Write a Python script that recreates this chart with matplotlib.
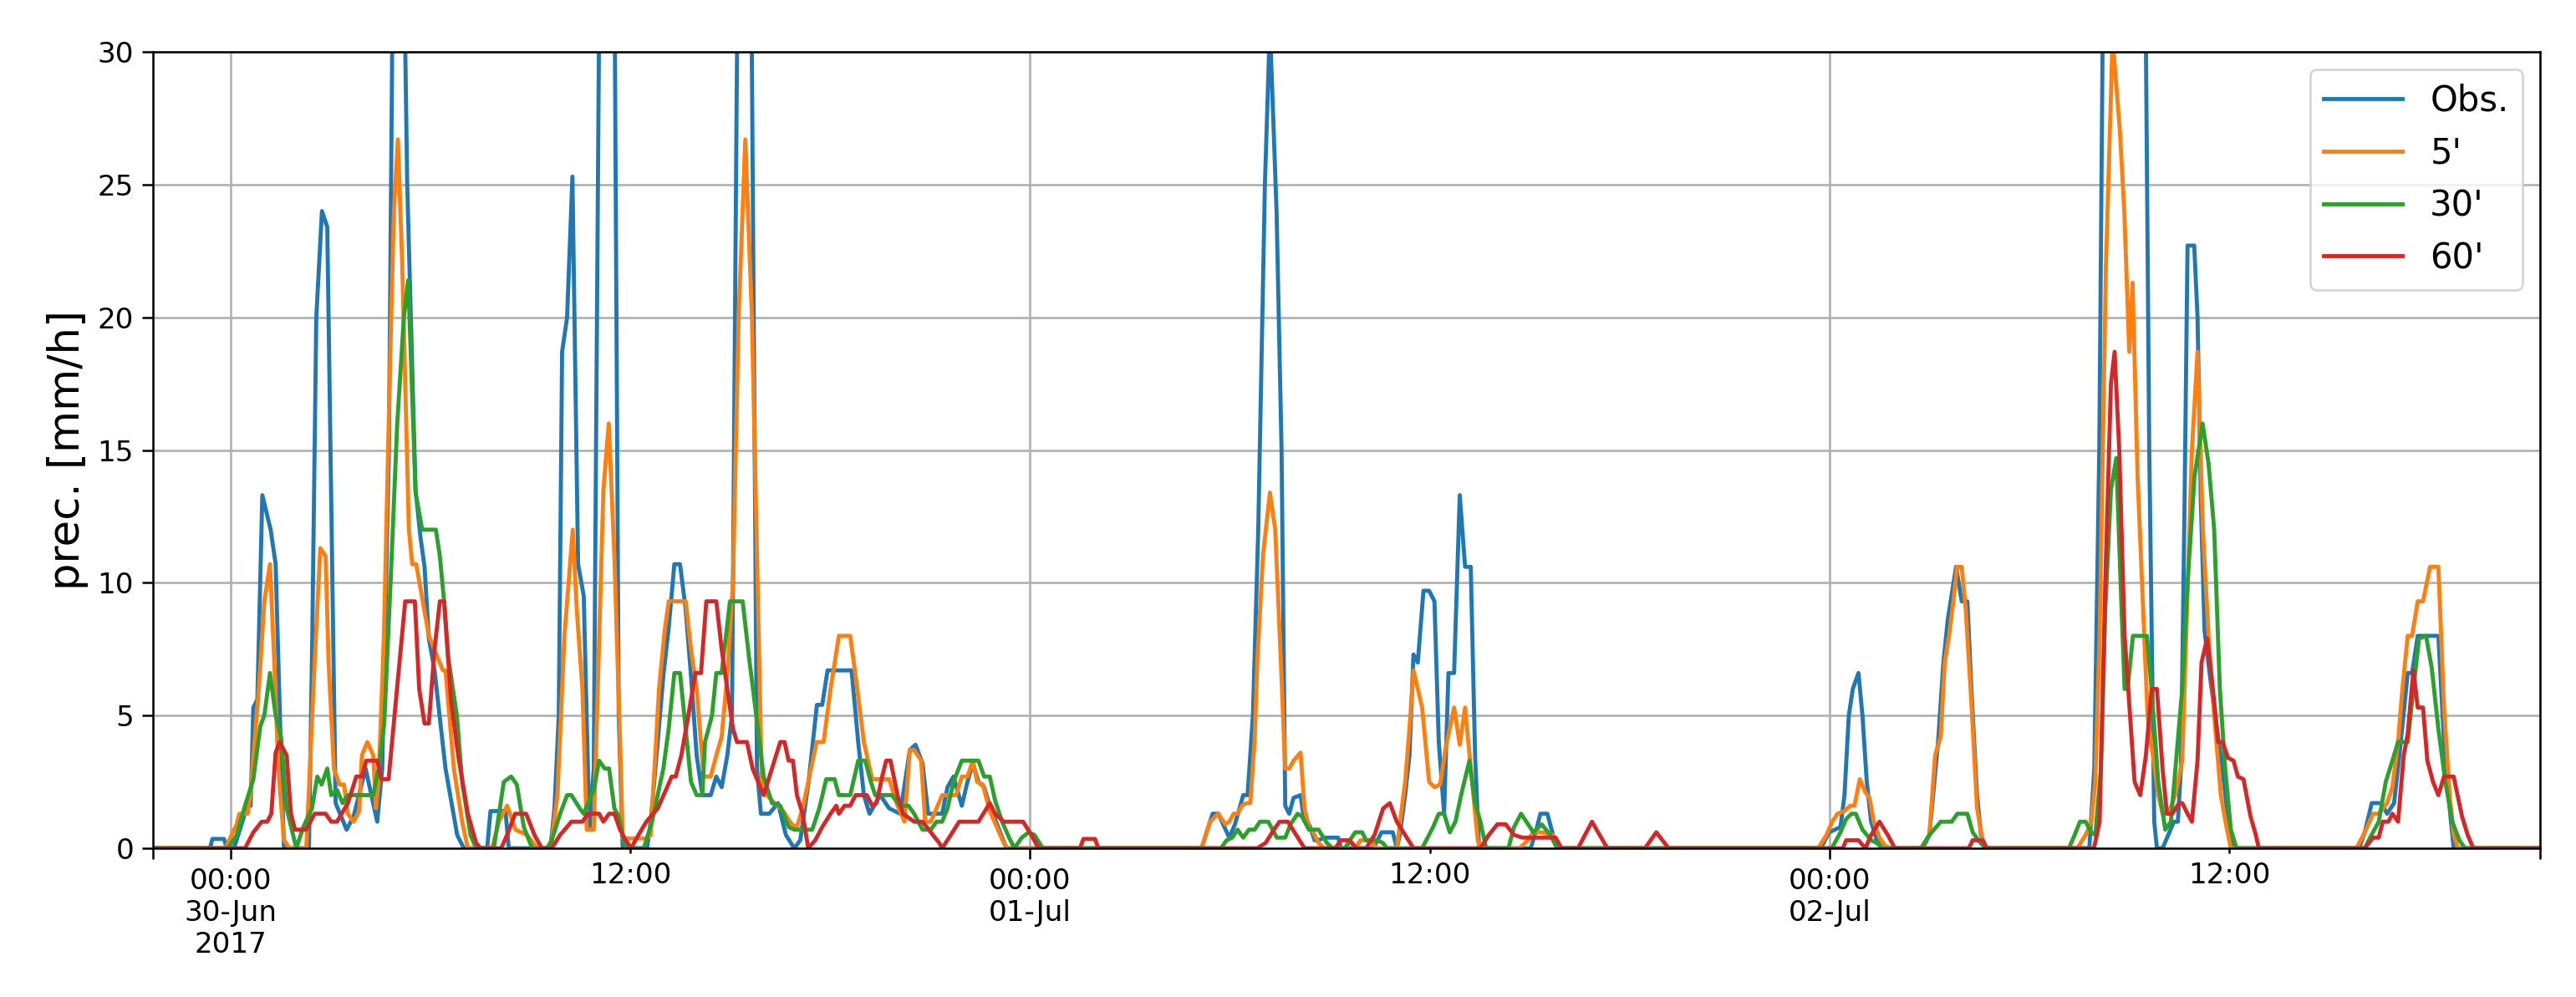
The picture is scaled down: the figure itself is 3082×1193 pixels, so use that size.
import matplotlib
matplotlib.use("Agg")
import matplotlib.pyplot as plt
import numpy as np
import pandas as pd

# ---- data: (hours after 2017-06-30 00:00, precipitation in mm/h) ----
obs = [(-2.333,0),(-0.62,0),(-0.55,0.35),(-0.2,0.35),(-0.12,0),(0.1,0),(0.3,0.8),(0.5,1.6),(0.6,1.6),(0.68,5.3),(0.8,5.6),(0.95,13.3),(1.2,12.0),(1.35,10.7),(1.5,4.0),(1.6,0),
       (2.35,0),(2.45,8),(2.57,20.0),(2.74,24.0),(2.9,23.4),(3.15,1.7),(3.48,0.7),(3.69,1.2),(4.05,3.0),(4.4,1.0),(4.55,3.0),(4.75,15),(4.9,38),(5.15,38),(5.3,25),(5.55,13.5),(5.7,11.7),(5.82,10.6),(5.95,7.9),(6.12,6.7),(6.45,3.0),(6.8,0.5),(7.0,0),
       (7.7,0),(7.8,1.4),(8.25,1.4),(8.35,0),
       (9.6,0),(9.72,1.5),(9.85,5),(9.95,18.7),(10.1,20.0),(10.26,25.3),(10.43,10.7),(10.6,9.5),(10.77,0.7),(10.9,3),(11.1,38),(11.5,38),(11.65,5),(11.77,0),
       (12.5,0),(12.61,1.0),(12.82,4.0),(12.99,6.5),(13.15,8.3),(13.32,10.7),(13.49,10.7),(13.66,9.0),(13.82,6.5),(13.99,3.5),(14.16,2.0),(14.41,2.0),(14.58,2.7),(14.74,2.3),(14.91,3.5),(15.05,5),(15.25,38),(15.6,38),(15.8,3),(15.92,1.3),(16.17,1.3),(16.43,1.7),(16.67,0.5),(16.92,0),
       (17.1,0.3),(17.35,2.5),(17.6,5.4),(17.76,5.4),(17.92,6.7),(18.64,6.7),(18.84,4.0),(19.01,2.0),(19.18,1.3),(19.5,2.0),(19.77,1.5),(20.1,1.3),(20.39,3.7),(20.56,3.9),(20.77,3.2),(20.94,1.3),(21.36,1.3),(21.52,2.3),(21.7,2.7),(21.95,1.6),(22.12,2.5),(22.28,3.2),(22.45,2.5),(22.62,2.3),(22.79,1.6),(23.04,0.8),(23.29,0),
       (29.15,0),(29.3,0.6),(29.48,1.3),(29.65,1.3),(29.98,0.4),(30.15,0.9),(30.4,2.0),(30.53,2.0),(30.69,5.0),(30.85,12),(31.05,25),(31.2,31),(31.4,24),(31.55,15),(31.66,1.6),(31.78,1.3),(31.91,1.9),(32.12,2.0),(32.2,1.3),(32.41,0.8),(32.54,0.3),(32.66,0.3),(32.83,0.4),(33.25,0.4),(33.33,0),
       (34.3,0),(34.43,0.3),(34.55,0.6),(34.89,0.6),(35.01,0),(35.1,0.5),(35.26,2.0),(35.39,3.5),(35.51,7.3),(35.64,7.0),(35.81,9.7),(35.98,9.7),(36.14,9.3),(36.27,4.0),(36.43,1.3),(36.56,6.6),(36.73,6.6),(36.9,13.3),(37.06,10.6),(37.23,10.6),(37.36,3.5),(37.48,0),
       (39.03,0),(39.2,0.7),(39.32,1.3),(39.53,1.3),(39.7,0.5),(39.82,0),
       (47.74,0),(47.99,0.6),(48.16,0.7),(48.33,0.8),(48.45,2.0),(48.58,5.0),(48.7,6.0),(48.87,6.6),(48.99,5.0),(49.12,2.5),(49.25,1.0),(49.42,0.3),(49.58,0),
       (50.8,0),(51.0,0.5),(51.26,4.0),(51.42,7.0),(51.55,8.6),(51.8,10.6),(51.97,9.3),(52.14,9.3),(52.26,6.0),(52.43,2.0),(52.55,0.5),(52.68,0),
       (55.8,0),(55.95,3),(56.1,15),(56.25,38),(57.45,38),(57.6,15),(57.75,1),(57.83,0),(58.0,0),(58.17,0.5),(58.34,1.0),(58.46,1.0),(58.55,3.0),(58.65,12),(58.75,22.7),(58.95,22.7),(59.05,20.0),(59.15,13),(59.26,8.2),(59.47,6.0),(59.63,4.5),(59.8,3.0),(59.97,1.0),(60.09,0),
       (63.9,0),(64.07,0.6),(64.28,1.7),(64.57,1.7),(64.74,1.3),(64.95,1.7),(65.11,3.5),(65.36,6.6),(65.49,6.6),(65.66,8.0),(66.28,8.0),(66.45,4.0),(66.62,1.5),(66.74,0),(69.333,0)]

m5 = [(-2.333,0),(-0.16,0),(0.18,0.9),(0.26,1.3),(0.51,1.3),(0.59,2.0),(0.85,6.1),(1.01,9.3),(1.18,10.7),(1.31,7.0),(1.43,3.0),(1.6,0.3),(1.77,0),
      (2.27,0),(2.52,7.0),(2.69,11.3),(2.85,11.0),(2.94,7.0),(3.1,3.0),(3.27,2.4),(3.4,2.4),(3.52,1.3),(3.69,1.0),(3.86,1.4),(3.94,3.5),(4.1,4.0),(4.28,3.5),(4.36,1.5),(4.44,2.5),(4.6,8),(4.78,18),(4.9,24),(5.02,26.7),(5.15,22),(5.35,12),(5.45,10.7),(5.57,10.7),(5.95,8.0),(6.37,6.7),(6.45,6.7),(6.7,3.0),(6.95,1.0),(7.12,0),
      (7.85,0),(8.05,1.0),(8.3,1.6),(8.55,0.7),(8.9,0.5),(9.2,0),
      (9.5,0),(9.64,0.3),(9.81,2.0),(10.02,8.0),(10.27,12.0),(10.39,9.0),(10.56,6.0),(10.69,0.7),(10.9,0.7),(11.02,6.0),(11.19,13.5),(11.35,16.0),(11.52,11.0),(11.69,4.0),(11.77,0.37),(12.48,0.37),(12.61,0.5),(12.86,6.0),(13.03,8.2),(13.15,9.3),(13.66,9.3),(13.82,7.5),(13.99,6.0),(14.2,2.7),(14.41,2.7),(14.58,3.5),(14.74,4.2),(14.91,6.5),(15.08,10),(15.25,20),(15.45,26.7),(15.65,20),(15.95,2.2),(16.33,1.7),(16.59,1.4),(16.84,0.9),(17.0,0.8),(17.17,1.5),(17.34,2.5),(17.59,4.0),(17.8,4.0),(18.01,6.0),(18.26,8.0),(18.6,8.0),(18.76,6.5),(19.01,4.0),(19.26,2.6),(19.77,2.6),(20.02,1.6),(20.23,1.0),(20.39,3.7),(20.52,3.7),(20.73,3.3),(20.85,1.0),(21.02,1.0),(21.36,2.0),(21.78,2.0),(21.95,2.7),(22.12,2.7),(22.28,3.3),(22.41,2.5),(22.58,2.4),(22.79,1.4),(23.0,0.8),(23.21,0.2),(23.33,0),
      (29.15,0),(29.4,1.0),(29.65,1.3),(29.86,0.9),(29.98,1.0),(30.11,1.3),(30.23,1.3),(30.36,1.6),(30.49,1.7),(30.61,1.7),(30.74,4.0),(30.82,7.0),(30.99,11.0),(31.2,13.4),(31.36,12.0),(31.53,7.0),(31.66,3.0),(31.78,3.0),(31.91,3.3),(32.12,3.6),(32.24,1.5),(32.37,0.8),(32.5,0.6),(32.66,0.2),(32.83,0),
      (33.5,0),(33.6,0.3),(33.76,0),(33.92,0.3),(34.09,0.3),(34.26,0.2),(34.43,0),
      (35.01,0),(35.26,2.5),(35.39,4.5),(35.51,6.7),(35.77,5.3),(35.98,2.5),(36.14,2.3),(36.31,2.4),(36.48,3.8),(36.73,5.3),(36.9,3.9),(37.06,5.3),(37.27,2.5),(37.44,0.3),(37.52,0),
      (38.69,0),(38.95,0.3),(39.1,0.6),(39.36,0.6),(39.7,0.5),(39.82,0),
      (47.66,0),(47.91,0.5),(48.08,1.0),(48.24,1.3),(48.45,1.4),(48.62,1.6),(48.75,1.6),(48.91,2.6),(49.08,2.1),(49.2,1.9),(49.33,1.0),(49.5,0.4),(49.67,0.1),(49.83,0),
      (50.75,0),(51.0,0.5),(51.17,3.5),(51.34,4.2),(51.46,7.0),(51.59,8.0),(51.72,9.3),(51.83,10.6),(51.97,10.6),(52.09,9.0),(52.26,5.5),(52.43,1.5),(52.6,0.3),(52.72,0),
      (55.44,0),(55.69,0.5),(55.86,1.0),(55.98,2.5),(56.11,8),(56.3,22),(56.5,30.5),(56.72,27),(56.85,24),(57.0,18.7),(57.1,21.3),(57.25,14),(57.55,5),(57.87,2.0),(58.0,1.3),(58.17,1.3),(58.38,2.0),(58.59,3.3),(58.71,8.0),(58.88,15),(59.05,18.7),(59.21,12),(59.38,8),(59.55,5),(59.75,2.0),(59.92,0.8),(60.05,0),
      (63.82,0),(64.07,0.6),(64.32,1.3),(64.49,1.3),(64.74,1.7),(64.9,2.3),(65.07,4.0),(65.2,6.0),(65.36,8.0),(65.49,8.0),(65.66,9.3),(65.82,9.3),(66.03,10.6),(66.28,10.6),(66.45,5.3),(66.62,2.0),(66.74,0.5),(66.87,0),(69.333,0)]

m30 = [(-2.333,0),(-0.08,0),(0.18,0.5),(0.43,1.6),(0.68,2.6),(0.89,4.6),(1.01,5.0),(1.18,6.6),(1.35,5.0),(1.51,4.2),(1.68,1.5),(1.97,0),(2.18,0.8),(2.44,1.5),(2.6,2.7),(2.73,2.4),(2.9,3.0),(3.02,2.0),(3.19,2.2),(3.36,1.7),(3.52,2.0),(4.28,2.0),(4.44,3.0),(4.61,4.7),(4.8,10),(5.0,16),(5.2,20.0),(5.33,21.4),(5.55,13.4),(5.75,12.0),(6.16,12.0),(6.28,11.0),(6.4,9.4),(6.53,7.2),(6.79,5.0),(6.95,2.5),(7.2,0.5),(7.37,0),
       (7.9,0),(8.2,2.5),(8.42,2.7),(8.59,2.4),(8.8,0.8),(9.05,0),(9.5,0),
       (9.64,0.3),(9.89,1.3),(10.1,2.0),(10.23,2.0),(10.48,1.5),(10.6,1.3),(10.9,2.2),(11.06,3.3),(11.23,3.0),(11.36,3.0),(11.52,1.5),(11.65,1.2),(11.82,0.2),(11.98,0),(12.4,0),(12.65,1.0),(12.99,3.0),(13.15,4.5),(13.32,6.6),(13.49,6.6),(13.66,4.5),(13.82,2.5),(13.99,2.0),(14.16,2.0),(14.24,4.0),(14.45,5.0),(14.58,6.6),(14.74,6.6),(14.99,9.3),(15.37,9.3),(15.58,7.0),(15.83,4.5),(16.0,2.7),(16.25,1.7),(16.5,1.6),(16.75,0.8),(16.92,0.7),(17.46,0.7),(17.67,1.5),(17.88,2.6),(18.13,2.6),(18.26,2.0),(18.6,2.0),(18.84,3.3),(19.05,3.3),(19.22,2.5),(19.35,2.0),(19.85,2.0),(20.1,1.6),(20.35,1.6),(20.52,1.3),(20.77,0.7),(21.02,0.7),(21.19,1.0),(21.36,1.0),(21.52,1.5),(21.7,2.5),(21.95,3.3),(22.45,3.3),(22.62,2.7),(22.79,2.7),(22.95,1.8),(23.16,1.0),(23.37,0.4),(23.53,0),(23.75,0.4),(23.96,0.6),(24.13,0.5),(24.38,0),
       (29.73,0),(29.9,0.3),(30.07,0.4),(30.23,0.7),(30.4,0.4),(30.57,0.7),(30.74,0.7),(30.9,1.0),(31.15,1.0),(31.41,0.4),(31.66,0.4),(31.82,0.9),(32.03,1.3),(32.16,1.2),(32.37,0.7),(32.66,0.7),(32.91,0.2),(33.08,0),(33.45,0),(33.6,0.3),(33.76,0.6),(33.97,0.6),(34.09,0.3),(34.43,0.3),(34.59,0.2),(34.72,0),
       (35.77,0),(36.1,0.8),(36.27,1.3),(36.43,1.3),(36.6,0.6),(36.77,1.0),(36.94,2.0),(37.19,3.3),(37.36,1.7),(37.52,1.0),(37.69,0),
       (38.36,0),(38.53,0.8),(38.74,1.3),(38.95,0.9),(39.11,0.6),(39.36,0.9),(39.62,0.5),(39.82,0),
       (48.07,0),(48.33,0.6),(48.5,1.1),(48.66,1.3),(48.79,1.3),(48.99,0.7),(49.25,0.3),(49.42,0.2),(49.58,0),
       (50.75,0),(51.0,0.5),(51.34,1.0),(51.67,1.0),(51.84,1.3),(52.14,1.3),(52.3,0.6),(52.47,0.3),(52.68,0),
       (55.19,0),(55.36,0.5),(55.52,1.0),(55.69,1.0),(55.86,0.6),(55.98,0.5),(56.15,3.0),(56.28,9.0),(56.45,13.5),(56.61,14.7),(56.74,10),(56.86,6.0),(56.95,6.0),(57.11,8.0),(57.53,8.0),(57.67,6.0),(57.87,2.5),(58.08,0.7),(58.25,1.0),(58.42,3.5),(58.59,6.0),(58.75,10),(58.96,14),(59.2,16.0),(59.38,14.5),(59.55,12),(59.72,6),(59.88,3),(60.05,0.7),(60.22,0),
       (64.07,0),(64.23,0.4),(64.49,1.0),(64.7,2.5),(64.9,3.3),(65.07,4.0),(65.36,4.0),(65.53,6.0),(65.7,7.9),(65.91,8.0),(66.08,6.8),(66.28,4.5),(66.49,2.5),(66.7,1.0),(66.91,0.3),(67.08,0),(69.333,0)]

m60 = [(-2.333,0),(0.43,0),(0.68,0.6),(0.93,1.0),(1.1,1.0),(1.22,1.3),(1.35,3.6),(1.47,4.0),(1.68,3.5),(1.81,1.3),(1.93,0.7),(2.27,0.7),(2.52,1.3),(2.85,1.3),(3.02,1.0),(3.19,1.0),(3.52,1.7),(3.77,2.7),(3.94,2.7),(4.07,3.3),(4.4,3.3),(4.53,2.6),(4.74,2.6),(5.03,6.5),(5.24,9.3),(5.53,9.3),(5.66,6.0),(5.82,4.7),(5.95,4.7),(6.12,7.5),(6.28,9.3),(6.41,9.3),(6.62,5.5),(6.83,3.5),(7.12,1.3),(7.37,0.2),(7.5,0),
       (8.12,0),(8.3,0.5),(8.54,1.3),(8.87,1.3),(9.12,0.5),(9.34,0),(9.64,0),
       (9.89,0.5),(10.23,1.0),(10.56,1.0),(10.73,1.3),(11.06,1.3),(11.19,1.0),(11.36,1.3),(11.52,1.3),(11.69,0.7),(11.86,0.3),(12.03,0),(12.15,0.3),(12.48,1.0),(12.82,1.5),(13.07,2.2),(13.24,2.7),(13.36,2.7),(13.53,3.5),(13.74,5.0),(13.95,6.6),(14.12,6.6),(14.28,9.3),(14.58,9.3),(14.74,7.5),(14.91,6.0),(15.08,4.5),(15.2,4.0),(15.5,4.0),(15.67,3.0),(16.0,2.0),(16.25,3.0),(16.5,4.0),(16.63,4.0),(16.75,3.3),(16.88,3.3),(17.0,2.0),(17.17,1.3),(17.34,0),(17.55,0.3),(17.76,0.8),(18.01,1.3),(18.18,1.6),(18.26,1.3),(18.43,1.6),(18.6,1.6),(18.76,2.0),(19.1,2.0),(19.26,1.6),(19.39,1.7),(19.56,2.7),(19.68,3.3),(19.81,3.3),(20.02,2.0),(20.18,1.3),(20.52,1.0),(20.77,1.0),(21.02,0.6),(21.27,0.2),(21.36,0),(21.62,0.5),(21.87,1.0),(22.45,1.0),(22.79,1.7),(22.95,1.3),(23.21,1.0),(23.79,1.0),(24.04,0.5),(24.25,0),
       (25.5,0),(25.6,0.35),(25.95,0.35),(26.05,0),
       (30.82,0),(31.07,0.2),(31.32,0.7),(31.49,1.0),(31.74,1.0),(31.99,0.5),(32.24,0),(33.16,0),(33.33,0.3),(33.59,0.3),(33.8,0),
       (34.09,0),(34.34,0.5),(34.6,1.5),(34.8,1.7),(35.01,1.0),(35.26,0.5),(35.51,0),
       (37.52,0),(37.77,0.5),(38.03,0.9),(38.28,0.9),(38.53,0.5),(38.78,0.4),(39.78,0.4),(39.95,0),
       (40.45,0),(40.87,1.0),(41.33,0),(42.46,0),(42.8,0.6),(43.17,0),
       (48.4,0),(48.5,0.3),(48.87,0.3),(49.08,0),(49.25,0.5),(49.5,1.0),(49.75,0.5),(49.96,0),
       (52.18,0),(52.3,0.3),(52.6,0.3),(52.72,0),
       (55.94,0),(56.11,1.0),(56.28,10),(56.45,17.5),(56.56,18.7),(56.7,15),(56.86,8),(57.16,2.5),(57.33,2.0),(57.5,3.5),(57.67,6.0),(57.83,6.0),(58.0,3.0),(58.13,1.3),(58.29,1.3),(58.5,1.7),(58.59,1.7),(58.75,1.3),(58.88,1.0),(59.05,3.3),(59.17,7.0),(59.34,7.9),(59.51,6.0),(59.67,4.0),(59.8,4.0),(59.97,3.4),(60.13,3.3),(60.26,2.7),(60.43,2.6),(60.64,1.2),(60.8,0.5),(60.89,0),
       (64.07,0),(64.32,0.4),(64.49,0.4),(64.61,1.0),(64.78,1.0),(64.9,1.3),(65.07,1.0),(65.24,3.5),(65.36,4.3),(65.53,6.7),(65.66,5.3),(65.82,5.3),(65.95,3.3),(66.12,2.5),(66.28,2.0),(66.45,2.7),(66.74,2.7),(66.99,1.2),(67.16,0.5),(67.33,0),(69.333,0)]

series_labels = ["Obs.", "5'", "30'", "60'"]
series_colors = ["#1f77b4", "#ff7f0e", "#2ca02c", "#d62728"]
major_labels = ["", "00:00\n30-Jun\n2017", "00:00\n01-Jul", "00:00\n02-Jul", ""]
minor_labels = ["12:00", "12:00", "12:00"]
y_ticks = [0, 5, 10, 15, 20, 25, 30]

start = pd.Timestamp("2017-06-30 00:00")


def to_time(hours):
    return start + pd.to_timedelta(np.asarray(hours, dtype=float), unit="h")


fig = plt.figure(figsize=(15.41, 5.965), dpi=200)
ax = fig.add_axes([0.05938, 0.1492, 0.92667, 0.79883])

for data, lab, col in zip([obs, m5, m30, m60], series_labels, series_colors):
    h, v = zip(*data)
    ax.plot(to_time(h), v, color=col, lw=1.75, label=lab)

xmin = start - pd.Timedelta(hours=2, minutes=20)
xmax = start + pd.Timedelta(hours=69, minutes=20)
ax.set_xlim(xmin, xmax)
ax.set_ylim(0, 30)

major = [xmin, start, start + pd.Timedelta(hours=24), start + pd.Timedelta(hours=48), xmax]
minor = [start + pd.Timedelta(hours=h) for h in (12, 36, 60)]
ax.set_xticks(major)
ax.set_xticklabels(major_labels)
ax.set_xticks(minor, minor=True)
ax.set_xticklabels(minor_labels, minor=True)
ax.set_yticks(y_ticks)

ax.tick_params(axis="both", which="major", labelsize=12.3, length=4.7, width=0.9)
ax.tick_params(axis="x", which="minor", labelsize=12.3, length=2.2, width=0.9)
for lbl in ax.get_xticklabels():
    lbl.set_ha("center")

ax.grid(True, which="major", color="#b0b0b0", lw=0.95)
ax.set_axisbelow(True)
for s in ax.spines.values():
    s.set_linewidth(0.9)

ax.set_ylabel("prec. [mm/h]", fontsize=18.5)
ax.legend(loc="upper right", fontsize=15, handlelength=2.25)

fig.savefig("out.png", dpi=200)
